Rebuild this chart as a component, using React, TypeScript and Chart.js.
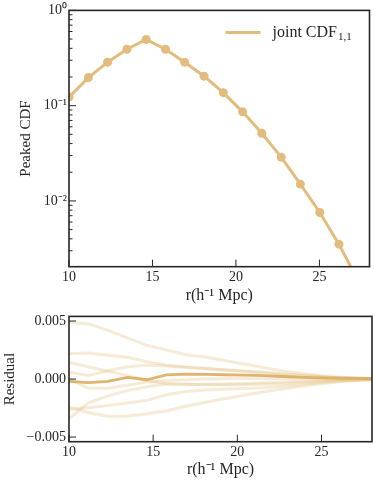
import React, { useEffect, useRef } from 'react';
import { Chart, registerables } from 'chart.js';

Chart.register(...registerables);

// ---- data ----
const R = [10.0, 11.16, 12.31, 13.47, 14.62, 15.78, 16.93, 18.09, 19.24, 20.4, 21.55, 22.71, 23.86, 25.02, 26.17, 27.33, 28.48];
const CDF = [0.123, 0.197, 0.286, 0.391, 0.496, 0.391, 0.286, 0.204, 0.137, 0.0862, 0.0514, 0.0288, 0.015, 0.00757, 0.00352, 0.00143, 0.00052];

const RESID_MAIN = [-0.0002, -0.0003, -0.0002, 0.00015, -0.00006, 0.00036, 0.00042, 0.0004, 0.00037, 0.00034, 0.0003, 0.00022, 0.00015, 0.0001, 0.00007, 0.00005, 0.00004];
const RESID_A = [0.0049, 0.00475, 0.0042, 0.00355, 0.0029, 0.0025, 0.0021, 0.0019, 0.0016, 0.0013, 0.001, 0.0007, 0.00047, 0.00028, 0.00015, 0.00008, 0.00004];
const RESID_B = [0.00217, 0.00225, 0.00205, 0.00188, 0.0015, 0.00122, 0.00105, 0.0009, 0.00078, 0.00066, 0.00052, 0.0004, 0.0003, 0.0002, 0.00012, 0.00007, 0.00004];
const RESID_C = [0.00142, 0.00105, 0.00067, 0.0003, -0.00012, -0.0004, -0.00045, -0.00045, -0.00042, -0.00038, -0.00032, -0.00025, -0.00018, -0.00012, -0.00007, -0.00003, 0.0];
const RESID_D = [0.00058, 0.0003, 0.00072, 0.00105, 0.0012, 0.00113, 0.001, 0.0009, 0.0008, 0.0007, 0.0006, 0.00045, 0.0003, 0.0002, 0.0001, 0.00005, 0.00002];
const RESID_E = [0.0, -0.0008, -0.0008, -0.00053, -0.00025, -0.00012, -0.00005, 0.0, 0.00003, 0.00004, 0.00003, 0.00002, 0.00002, 0.00001, 0.0, 0.0, 0.0];
const RESID_F = [-0.0034, -0.00205, -0.00145, -0.001, -0.00067, -0.0004, -0.00045, -0.0005, -0.0005, -0.0005, -0.00045, -0.0004, -0.0003, -0.0002, -0.00012, -0.00006, -0.00003];
const RESID_G = [-0.0026, -0.00248, -0.00228, -0.00206, -0.00184, -0.00136, -0.00108, -0.00095, -0.00088, -0.00082, -0.00075, -0.00062, -0.00045, -0.0003, -0.00017, -0.00008, -0.00004];
const RESID_H = [-0.0024, -0.0029, -0.0032, -0.0032, -0.003, -0.00275, -0.00234, -0.002, -0.0017, -0.0014, -0.0011, -0.00085, -0.0006, -0.0004, -0.00022, -0.0001, -0.00005];
const RESID_FAINT = [RESID_A, RESID_B, RESID_C, RESID_D, RESID_E, RESID_F, RESID_G, RESID_H];

const X_TICKS = [10, 15, 20, 25];
const TOP_Y_TICKS = [0.01, 0.1, 1];
const TOP_Y_LABELS = ['10⁻²', '10⁻¹', '10⁰'];
const BOT_Y_TICKS = [-0.005, 0, 0.005];
const BOT_Y_LABELS = ['−0.005', '0.000', '0.005'];

const LEGEND_MAIN = 'joint CDF';
const LEGEND_SUB = '1,1';
const X_TITLE = 'r(h⁻¹ Mpc)';
const TOP_Y_TITLE = 'Peaked CDF';
const BOT_Y_TITLE = 'Residual';

// ---- style ----
const COLOR = 'rgb(226,188,124)';
const FAINT = 'rgba(226,188,124,0.3)';
const INK = '#262626';
const FAMILY = "'Liberation Serif', 'Times New Roman', serif";

function framePlugin(minorLog: boolean, legend: boolean) {
  return {
    id: 'frameTicks',
    afterDatasetsDraw(chart: any) {
      const { ctx, chartArea: a, scales } = chart;
      const xs = scales.x;
      const ys = scales.y;
      ctx.save();
      ctx.strokeStyle = INK;
      ctx.lineWidth = 1;
      const seg = (x1: number, y1: number, x2: number, y2: number) => {
        ctx.beginPath();
        ctx.moveTo(x1, y1);
        ctx.lineTo(x2, y2);
        ctx.stroke();
      };
      for (const t of xs.ticks) {
        const px = xs.getPixelForValue(t.value);
        seg(px, a.bottom, px, a.bottom - 7);
      }
      for (const t of ys.ticks) {
        const py = ys.getPixelForValue(t.value);
        seg(a.left, py, a.left + 7, py);
      }
      if (minorLog) {
        for (let e = -4; e <= 0; e++) {
          for (let m = 2; m <= 9; m++) {
            const v = m * Math.pow(10, e);
            if (v < ys.min || v > ys.max) continue;
            const py = ys.getPixelForValue(v);
            seg(a.left, py, a.left + 3.5, py);
          }
        }
      }
      ctx.lineWidth = 1.6;
      ctx.strokeRect(a.left, a.top, a.right - a.left, a.bottom - a.top);

      if (legend) {
        const lx = a.right - 144;
        const ly = a.top + 22;
        ctx.strokeStyle = COLOR;
        ctx.lineWidth = 3;
        seg(lx, ly, lx + 35, ly);
        ctx.fillStyle = INK;
        ctx.textBaseline = 'alphabetic';
        ctx.textAlign = 'left';
        ctx.font = `16px ${FAMILY}`;
        const tx = lx + 47;
        ctx.fillText(LEGEND_MAIN, tx, ly + 5);
        const w = ctx.measureText(LEGEND_MAIN).width;
        ctx.font = `11px ${FAMILY}`;
        ctx.fillText(LEGEND_SUB, tx + w + 1, ly + 7.5);
      }
      ctx.restore();
    },
  };
}

function baseX(titleBottomPad: number, height: number) {
  return {
    type: 'linear',
    min: 10,
    max: 28,
    grid: { display: false, drawTicks: false },
    border: { display: false },
    afterBuildTicks: (s: any) => {
      s.ticks = X_TICKS.map((v) => ({ value: v }));
    },
    afterFit: (s: any) => {
      s.height = height;
    },
    ticks: {
      padding: 2,
      color: INK,
      font: { family: FAMILY, size: 14 },
      callback: (v: any) => String(v),
    },
    title: {
      display: true,
      text: X_TITLE,
      color: INK,
      font: { family: FAMILY, size: 16 },
      padding: { top: 0, bottom: titleBottomPad },
    },
  };
}

export default function App() {
  const topRef = useRef<HTMLCanvasElement>(null);
  const botRef = useRef<HTMLCanvasElement>(null);

  useEffect(() => {
    const top = new Chart(topRef.current as HTMLCanvasElement, {
      type: 'line',
      data: {
        datasets: [
          {
            label: LEGEND_MAIN + ' ' + LEGEND_SUB,
            data: R.map((r, i) => ({ x: r, y: CDF[i] })),
            borderColor: COLOR,
            backgroundColor: COLOR,
            borderWidth: 3,
            pointRadius: 4.5,
            pointBackgroundColor: COLOR,
            pointBorderWidth: 0,
            tension: 0,
            clip: 0,
          } as any,
        ],
      },
      options: {
        responsive: false,
        animation: false,
        devicePixelRatio: 1,
        layout: { padding: { top: 7, right: 2, left: 0, bottom: 0 } },
        plugins: { legend: { display: false }, tooltip: { enabled: false } },
        scales: {
          x: baseX(0, 38.3) as any,
          y: {
            type: 'logarithmic',
            min: 0.00204,
            max: 1,
            grid: { display: false, drawTicks: false },
            border: { display: false },
            afterBuildTicks: (s: any) => {
              s.ticks = TOP_Y_TICKS.map((v) => ({ value: v, major: true }));
            },
            afterFit: (s: any) => {
              s.width = 69;
            },
            ticks: {
              padding: 2,
              color: INK,
              font: { family: FAMILY, size: 14 },
              callback: (v: any) => {
                const i = TOP_Y_TICKS.findIndex((t) => Math.abs(t - v) < t * 1e-6);
                return i >= 0 ? TOP_Y_LABELS[i] : '';
              },
            },
            title: {
              display: true,
              text: TOP_Y_TITLE,
              color: INK,
              font: { family: FAMILY, size: 15 },
              padding: { top: 17, bottom: 0 },
            },
          } as any,
        },
      },
      plugins: [framePlugin(true, true)],
    });

    const faintSets = RESID_FAINT.map((arr) => ({
      data: R.map((r, i) => ({ x: r, y: arr[i] })),
      borderColor: FAINT,
      borderWidth: 3,
      pointRadius: 0,
      tension: 0,
      clip: 0,
    }));

    const bot = new Chart(botRef.current as HTMLCanvasElement, {
      type: 'line',
      data: {
        datasets: [
          {
            data: R.map((r, i) => ({ x: r, y: RESID_MAIN[i] })),
            borderColor: 'rgba(220,176,104,0.95)',
            borderWidth: 2.8,
            pointRadius: 0,
            tension: 0,
            clip: 0,
          } as any,
          ...(faintSets as any[]),
        ],
      },
      options: {
        responsive: false,
        animation: false,
        devicePixelRatio: 1,
        layout: { padding: { top: 7.3, right: 2, left: 0, bottom: 0 } },
        plugins: { legend: { display: false }, tooltip: { enabled: false } },
        scales: {
          x: baseX(2, 39.3) as any,
          y: {
            type: 'linear',
            min: -0.0054,
            max: 0.0054,
            grid: { display: false, drawTicks: false },
            border: { display: false },
            afterBuildTicks: (s: any) => {
              s.ticks = BOT_Y_TICKS.map((v) => ({ value: v }));
            },
            afterFit: (s: any) => {
              s.width = 69;
            },
            ticks: {
              padding: 3,
              color: INK,
              font: { family: FAMILY, size: 14 },
              callback: (v: any) => {
                const i = BOT_Y_TICKS.findIndex((t) => Math.abs(t - v) < 1e-9);
                return i >= 0 ? BOT_Y_LABELS[i] : '';
              },
            },
            title: {
              display: true,
              text: BOT_Y_TITLE,
              color: INK,
              font: { family: FAMILY, size: 15 },
              padding: { top: 1, bottom: 0 },
            },
          } as any,
        },
      },
      plugins: [framePlugin(false, false)],
    });

    return () => {
      top.destroy();
      bot.destroy();
    };
  }, []);

  return (
    <div style={{ position: 'absolute', left: 0, top: 0, width: 374, height: 481, background: '#fff' }}>
      <canvas ref={topRef} width={374} height={305} style={{ display: 'block', width: 374, height: 305 }} />
      <canvas ref={botRef} width={374} height={176} style={{ display: 'block', width: 374, height: 176 }} />
    </div>
  );
}
